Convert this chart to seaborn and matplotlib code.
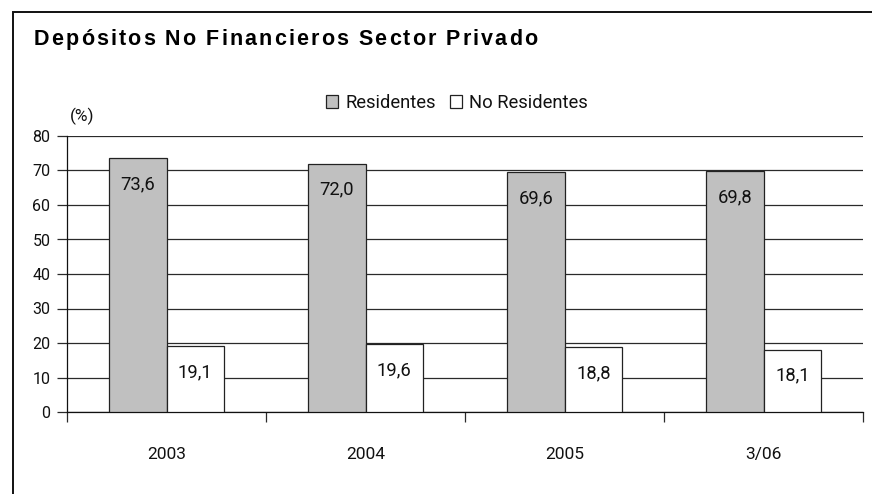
import matplotlib
matplotlib.use("Agg")
import matplotlib.pyplot as plt
from matplotlib.patches import Patch, Rectangle
import seaborn as sns
import pandas as pd

periodos = ["2003", "2004", "2005", "3/06"]
residentes = [73.6, 72.0, 69.6, 69.8]
no_residentes = [19.1, 19.6, 18.8, 18.1]
series = ["Residentes", "No Residentes"]
y_ticks = [0, 10, 20, 30, 40, 50, 60, 70, 80]
titulo = "Depósitos No Financieros Sector Privado"

df = pd.DataFrame({
    "periodo": periodos * 2,
    "valor": residentes + no_residentes,
    "serie": [series[0]] * len(periodos) + [series[1]] * len(periodos),
})

sns.set_theme(style="white")
plt.rcParams["font.family"] = ["Roboto", "DejaVu Sans"]

W, H = 872, 494
fig = plt.figure(figsize=(W / 100, H / 100), dpi=100)
ax = fig.add_axes([67 / W, 1 - 412 / H, 796 / W, 276 / H])

colores = {"Residentes": "#c0c0c0", "No Residentes": "#ffffff"}
sns.barplot(data=df, x="periodo", y="valor", hue="serie", order=periodos,
            hue_order=series, palette=colores, width=0.58, gap=0,
            edgecolor="#222222", linewidth=0.9, legend=False, ax=ax, zorder=3)

ax.set_xlim(-0.5, len(periodos) - 0.5)
ax.set_ylim(0, 80)
ax.set_yticks(y_ticks)
ax.yaxis.grid(True, color="#2a2a2a", linewidth=0.9)
ax.set_axisbelow(True)
ax.set_xlabel("")
ax.set_ylabel("")

for side in ["top", "right"]:
    ax.spines[side].set_visible(False)
for side in ["left", "bottom"]:
    ax.spines[side].set_visible(True)
    ax.spines[side].set_color("#111111")
    ax.spines[side].set_linewidth(0.9)

ax.tick_params(axis="y", which="major", left=True, length=7, width=0.9,
               color="#2a2a2a", labelsize=11.5, pad=5, labelcolor="#111111")
# category boundaries carry the ticks, centres carry the labels
ax.set_xticks([i - 0.5 for i in range(len(periodos) + 1)])
ax.set_xticklabels([""] * (len(periodos) + 1))
ax.set_xticks(range(len(periodos)), minor=True)
ax.set_xticklabels(periodos, minor=True)
ax.tick_params(axis="x", which="major", bottom=True, length=7, width=0.9,
               color="#2a2a2a", direction="out")
ax.tick_params(axis="x", which="minor", bottom=False, length=0, pad=25,
               labelsize=12.5, labelcolor="#111111")

for cont in ax.containers:
    for bar in cont:
        h = bar.get_height()
        ax.annotate(f"{h:.1f}".replace(".", ","),
                    xy=(bar.get_x() + bar.get_width() / 2, h),
                    xytext=(0, -26), textcoords="offset pixels",
                    ha="center", va="center", fontsize=13.2,
                    color="#111111", zorder=5)

ax.annotate("(%)", xy=(0, 1), xycoords="axes fraction", xytext=(15, 20),
            textcoords="offset pixels", ha="center", va="center",
            fontsize=12.5, color="#111111")

handles = [Patch(facecolor=colores[s], edgecolor="#222222", linewidth=0.9)
           for s in series]
fig.legend(handles, series, loc="center", bbox_to_anchor=(457 / W, 1 - 103 / H),
           ncol=2, frameon=False, fontsize=13.2, handlelength=0.65,
           handleheight=0.65, handletextpad=0.4, columnspacing=0.8,
           labelcolor="#111111")

# bold title with slightly widened letter spacing, laid out glyph by glyph
renderer = fig.canvas.get_renderer()
title_font = dict(fontsize=15.5, fontweight="bold",
                  family=["Liberation Sans", "DejaVu Sans"], color="#000000")
tracking = 2.1
probe = fig.text(0, 0, "xx", **title_font)
base_w = probe.get_window_extent(renderer).width
x = 34.0
for ch in titulo:
    probe.set_text("x" + ch + "x")
    adv = probe.get_window_extent(renderer).width - base_w
    fig.text(x / W, 1 - 45 / H, ch, ha="left", va="baseline", **title_font)
    x += adv + tracking
probe.remove()

fig.patches.append(Rectangle((13 / W, -0.1), 1.2, 1 - 12 / H + 0.1,
                             transform=fig.transFigure, fill=False,
                             edgecolor="#111111", linewidth=1.4))

fig.savefig("out.png", dpi=100, facecolor="white")
